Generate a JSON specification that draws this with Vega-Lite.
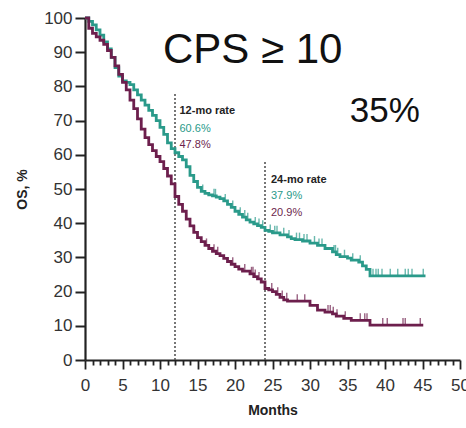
{
  "$schema": "https://vega.github.io/schema/vega-lite/v6.json",
  "width": 375,
  "height": 342,
  "autosize": "none",
  "padding": {"left": 85, "top": 18, "right": 6, "bottom": 68},
  "background": "white",
  "config": {"view": {"stroke": null}, "font": "Liberation Sans"},
  "datasets": {
    "km": [
      {"arm":"Treatment","month":0,"os":100,"c":0},{"arm":"Treatment","month":0.5,"os":99,"c":0},{"arm":"Treatment","month":1,"os":98,"c":0},{"arm":"Treatment","month":1.5,"os":96.5,"c":0},{"arm":"Treatment","month":2,"os":95,"c":0},{"arm":"Treatment","month":2.5,"os":93,"c":0},{"arm":"Treatment","month":3,"os":91,"c":0},{"arm":"Treatment","month":3.5,"os":88.5,"c":0},{"arm":"Treatment","month":4,"os":85.5,"c":0},{"arm":"Treatment","month":4.5,"os":83,"c":0},{"arm":"Treatment","month":5,"os":81.6,"c":0},{"arm":"Treatment","month":5.5,"os":81.2,"c":0},{"arm":"Treatment","month":6,"os":80.5,"c":0},{"arm":"Treatment","month":6.5,"os":79,"c":0},{"arm":"Treatment","month":7,"os":77.5,"c":0},{"arm":"Treatment","month":7.5,"os":76,"c":0},{"arm":"Treatment","month":8,"os":74.5,"c":0},{"arm":"Treatment","month":8.5,"os":73,"c":0},{"arm":"Treatment","month":9,"os":71.5,"c":0},{"arm":"Treatment","month":9.5,"os":70,"c":0},{"arm":"Treatment","month":10,"os":68,"c":0},{"arm":"Treatment","month":10.5,"os":66,"c":0},{"arm":"Treatment","month":11,"os":63.5,"c":0},{"arm":"Treatment","month":11.5,"os":61.8,"c":0},{"arm":"Treatment","month":12,"os":60.6,"c":0},{"arm":"Treatment","month":12.5,"os":59.5,"c":0},{"arm":"Treatment","month":13,"os":58.5,"c":0},{"arm":"Treatment","month":13.5,"os":56.5,"c":0},{"arm":"Treatment","month":14,"os":54,"c":0},{"arm":"Treatment","month":14.5,"os":52.2,"c":0},{"arm":"Treatment","month":15,"os":50.5,"c":0},{"arm":"Treatment","month":15.5,"os":49.3,"c":0},{"arm":"Treatment","month":15.7,"os":49.3,"c":1},{"arm":"Treatment","month":16,"os":48.7,"c":0},{"arm":"Treatment","month":16.5,"os":48.3,"c":0},{"arm":"Treatment","month":17,"os":48,"c":0},{"arm":"Treatment","month":17.2,"os":48,"c":1},{"arm":"Treatment","month":17.4,"os":48,"c":1},{"arm":"Treatment","month":17.5,"os":47.6,"c":0},{"arm":"Treatment","month":18,"os":47.2,"c":0},{"arm":"Treatment","month":18.5,"os":46.5,"c":0},{"arm":"Treatment","month":18.7,"os":46.5,"c":1},{"arm":"Treatment","month":19,"os":45.5,"c":0},{"arm":"Treatment","month":19.5,"os":44.6,"c":0},{"arm":"Treatment","month":19.7,"os":44.6,"c":1},{"arm":"Treatment","month":20,"os":43.5,"c":0},{"arm":"Treatment","month":20.5,"os":42.6,"c":0},{"arm":"Treatment","month":20.7,"os":42.6,"c":1},{"arm":"Treatment","month":21,"os":41.8,"c":0},{"arm":"Treatment","month":21.3,"os":41.8,"c":1},{"arm":"Treatment","month":21.5,"os":41,"c":0},{"arm":"Treatment","month":21.7,"os":41,"c":1},{"arm":"Treatment","month":22,"os":40.3,"c":0},{"arm":"Treatment","month":22.5,"os":39.8,"c":0},{"arm":"Treatment","month":22.7,"os":39.8,"c":1},{"arm":"Treatment","month":23,"os":39.3,"c":0},{"arm":"Treatment","month":23.2,"os":39.3,"c":1},{"arm":"Treatment","month":23.5,"os":38.8,"c":0},{"arm":"Treatment","month":23.7,"os":38.8,"c":1},{"arm":"Treatment","month":24,"os":37.9,"c":0},{"arm":"Treatment","month":24.5,"os":37.6,"c":0},{"arm":"Treatment","month":24.7,"os":37.6,"c":1},{"arm":"Treatment","month":25,"os":37.2,"c":0},{"arm":"Treatment","month":25.3,"os":37.2,"c":1},{"arm":"Treatment","month":25.6,"os":37.2,"c":1},{"arm":"Treatment","month":26,"os":36.6,"c":0},{"arm":"Treatment","month":26.5,"os":36.6,"c":1},{"arm":"Treatment","month":27,"os":36,"c":0},{"arm":"Treatment","month":27.2,"os":36,"c":1},{"arm":"Treatment","month":27.5,"os":35.5,"c":0},{"arm":"Treatment","month":28,"os":35.2,"c":0},{"arm":"Treatment","month":28.2,"os":35.2,"c":1},{"arm":"Treatment","month":28.6,"os":35.2,"c":1},{"arm":"Treatment","month":29,"os":34.8,"c":0},{"arm":"Treatment","month":29.2,"os":34.8,"c":1},{"arm":"Treatment","month":29.6,"os":34.8,"c":1},{"arm":"Treatment","month":30,"os":34.2,"c":0},{"arm":"Treatment","month":30.6,"os":34.2,"c":1},{"arm":"Treatment","month":31,"os":33.5,"c":0},{"arm":"Treatment","month":31.2,"os":33.5,"c":1},{"arm":"Treatment","month":31.6,"os":33.5,"c":1},{"arm":"Treatment","month":32,"os":32.6,"c":0},{"arm":"Treatment","month":33,"os":31.6,"c":0},{"arm":"Treatment","month":33.2,"os":31.6,"c":1},{"arm":"Treatment","month":33.4,"os":31.6,"c":1},{"arm":"Treatment","month":33.5,"os":30.8,"c":0},{"arm":"Treatment","month":33.7,"os":30.8,"c":1},{"arm":"Treatment","month":34,"os":30.2,"c":0},{"arm":"Treatment","month":34.6,"os":30.2,"c":1},{"arm":"Treatment","month":35,"os":29.8,"c":0},{"arm":"Treatment","month":35.5,"os":29.2,"c":0},{"arm":"Treatment","month":35.7,"os":29.2,"c":1},{"arm":"Treatment","month":36.5,"os":28.6,"c":0},{"arm":"Treatment","month":36.7,"os":28.6,"c":1},{"arm":"Treatment","month":37,"os":27.5,"c":0},{"arm":"Treatment","month":37.5,"os":26.5,"c":0},{"arm":"Treatment","month":38,"os":24.6,"c":0},{"arm":"Treatment","month":38.4,"os":24.6,"c":1},{"arm":"Treatment","month":38.8,"os":24.6,"c":1},{"arm":"Treatment","month":39.1,"os":24.6,"c":1},{"arm":"Treatment","month":39.6,"os":24.6,"c":1},{"arm":"Treatment","month":40.7,"os":24.6,"c":1},{"arm":"Treatment","month":41.7,"os":24.6,"c":1},{"arm":"Treatment","month":42.7,"os":24.6,"c":1},{"arm":"Treatment","month":43.1,"os":24.6,"c":1},{"arm":"Treatment","month":43.6,"os":24.6,"c":1},{"arm":"Treatment","month":45.1,"os":24.6,"c":1},{"arm":"Treatment","month":45.4,"os":24.6,"c":0},
      {"arm":"Control","month":0,"os":100,"c":0},{"arm":"Control","month":0.5,"os":97,"c":0},{"arm":"Control","month":1,"os":95.5,"c":0},{"arm":"Control","month":1.5,"os":94.5,"c":0},{"arm":"Control","month":2,"os":93.5,"c":0},{"arm":"Control","month":2.5,"os":92.3,"c":0},{"arm":"Control","month":3,"os":90.5,"c":0},{"arm":"Control","month":3.5,"os":88.5,"c":0},{"arm":"Control","month":4,"os":86,"c":0},{"arm":"Control","month":4.5,"os":83.5,"c":0},{"arm":"Control","month":5,"os":81.2,"c":0},{"arm":"Control","month":5.5,"os":79,"c":0},{"arm":"Control","month":6,"os":76,"c":0},{"arm":"Control","month":6.5,"os":73.5,"c":0},{"arm":"Control","month":7,"os":70.5,"c":0},{"arm":"Control","month":7.5,"os":67.5,"c":0},{"arm":"Control","month":8,"os":65,"c":0},{"arm":"Control","month":8.5,"os":63,"c":0},{"arm":"Control","month":9,"os":61.2,"c":0},{"arm":"Control","month":9.5,"os":59.5,"c":0},{"arm":"Control","month":10,"os":58,"c":0},{"arm":"Control","month":10.5,"os":56,"c":0},{"arm":"Control","month":11,"os":53.8,"c":0},{"arm":"Control","month":11.5,"os":51.5,"c":0},{"arm":"Control","month":12,"os":47.8,"c":0},{"arm":"Control","month":12.5,"os":45.5,"c":0},{"arm":"Control","month":13,"os":43.5,"c":0},{"arm":"Control","month":13.5,"os":41.2,"c":0},{"arm":"Control","month":14,"os":39.2,"c":0},{"arm":"Control","month":14.5,"os":37.3,"c":0},{"arm":"Control","month":14.6,"os":37.3,"c":1},{"arm":"Control","month":15,"os":35.8,"c":0},{"arm":"Control","month":15.5,"os":34.6,"c":0},{"arm":"Control","month":16,"os":33.5,"c":0},{"arm":"Control","month":16.2,"os":33.5,"c":1},{"arm":"Control","month":16.5,"os":32.6,"c":0},{"arm":"Control","month":17,"os":31.8,"c":0},{"arm":"Control","month":17.2,"os":31.8,"c":1},{"arm":"Control","month":17.5,"os":31.1,"c":0},{"arm":"Control","month":17.7,"os":31.1,"c":1},{"arm":"Control","month":18,"os":30.5,"c":0},{"arm":"Control","month":18.5,"os":29.7,"c":0},{"arm":"Control","month":19,"os":28.8,"c":0},{"arm":"Control","month":19.5,"os":28,"c":0},{"arm":"Control","month":19.7,"os":28,"c":1},{"arm":"Control","month":20,"os":27.3,"c":0},{"arm":"Control","month":20.5,"os":26.6,"c":0},{"arm":"Control","month":21,"os":26,"c":0},{"arm":"Control","month":21.3,"os":26,"c":1},{"arm":"Control","month":22,"os":25.2,"c":0},{"arm":"Control","month":22.2,"os":25.2,"c":1},{"arm":"Control","month":22.4,"os":25.2,"c":1},{"arm":"Control","month":22.5,"os":24.4,"c":0},{"arm":"Control","month":22.7,"os":24.4,"c":1},{"arm":"Control","month":23,"os":23.7,"c":0},{"arm":"Control","month":23.2,"os":23.7,"c":1},{"arm":"Control","month":23.5,"os":22.8,"c":0},{"arm":"Control","month":24,"os":20.9,"c":0},{"arm":"Control","month":24.5,"os":20.5,"c":0},{"arm":"Control","month":24.9,"os":20.5,"c":1},{"arm":"Control","month":25,"os":20,"c":0},{"arm":"Control","month":25.5,"os":19.2,"c":0},{"arm":"Control","month":25.7,"os":19.2,"c":1},{"arm":"Control","month":26,"os":18.3,"c":0},{"arm":"Control","month":26.3,"os":18.3,"c":1},{"arm":"Control","month":26.5,"os":17.6,"c":0},{"arm":"Control","month":26.9,"os":17.6,"c":1},{"arm":"Control","month":27,"os":17.2,"c":0},{"arm":"Control","month":28.3,"os":17.2,"c":1},{"arm":"Control","month":29.3,"os":17.2,"c":1},{"arm":"Control","month":30,"os":16,"c":0},{"arm":"Control","month":31,"os":14.6,"c":0},{"arm":"Control","month":32,"os":14,"c":0},{"arm":"Control","month":32.4,"os":14,"c":1},{"arm":"Control","month":32.7,"os":14,"c":1},{"arm":"Control","month":33,"os":13.5,"c":0},{"arm":"Control","month":33.1,"os":13.5,"c":1},{"arm":"Control","month":33.5,"os":12.8,"c":0},{"arm":"Control","month":33.6,"os":12.8,"c":1},{"arm":"Control","month":34.5,"os":12.2,"c":0},{"arm":"Control","month":34.7,"os":12.2,"c":1},{"arm":"Control","month":35.5,"os":11.6,"c":0},{"arm":"Control","month":36.7,"os":11.6,"c":1},{"arm":"Control","month":37.3,"os":11.6,"c":1},{"arm":"Control","month":37.6,"os":11.6,"c":1},{"arm":"Control","month":38,"os":10.2,"c":0},{"arm":"Control","month":39.7,"os":10.2,"c":1},{"arm":"Control","month":40.3,"os":10.2,"c":1},{"arm":"Control","month":42.4,"os":10.2,"c":1},{"arm":"Control","month":42.7,"os":10.2,"c":1},{"arm":"Control","month":44.7,"os":10.2,"c":1},{"arm":"Control","month":45.1,"os":10.2,"c":0}
    ],
    "marks": [
      {"month": 12, "os": 0, "top": 78},
      {"month": 24, "os": 0, "top": 58}
    ],
    "heads": [
      {"month": 12.6, "os": 71.9, "label": "12-mo rate"},
      {"month": 24.8, "os": 51.8, "label": "24-mo rate"}
    ],
    "rates": [
      {"month": 12.6, "os": 66.8, "label": "60.6%", "arm": "Treatment"},
      {"month": 12.6, "os": 61.9, "label": "47.8%", "arm": "Control"},
      {"month": 24.8, "os": 47.1, "label": "37.9%", "arm": "Treatment"},
      {"month": 24.8, "os": 42.2, "label": "20.9%", "arm": "Control"}
    ],
    "big": [
      {"month": 10.4, "os": 86.8, "label": "CPS ≥ 10", "kind": "title"},
      {"month": 35.3, "os": 69.6, "label": "35%", "kind": "pct"}
    ]
  },
  "encoding": {
    "x": {
      "field": "month", "type": "quantitative",
      "scale": {"domain": [0, 50], "nice": false, "zero": false},
      "axis": {
        "title": "Months",
        "values": [0,1,2,3,4,5,6,7,8,9,10,11,12,13,14,15,16,17,18,19,20,21,22,23,24,25,26,27,28,29,30,31,32,33,34,35,36,37,38,39,40,41,42,43,44,45,46,47,48,49,50],
        "labelExpr": "datum.value % 5 === 0 ? datum.label : ''",
        "labelOverlap": false,
        "labelFlush": false,
        "tickSize": {"condition": {"test": "datum.value % 5 === 0", "value": 9}, "value": 5},
        "tickWidth": 1.8,
        "tickColor": "#222",
        "domainColor": "#222",
        "domainWidth": 2.2,
        "grid": false,
        "labelFontSize": 17,
        "labelColor": "#333",
        "labelPadding": 8,
        "titleFontSize": 14,
        "titleFontWeight": "bold",
        "titleColor": "#222",
        "titlePadding": 10
      }
    },
    "y": {
      "field": "os", "type": "quantitative",
      "scale": {"domain": [0, 100], "nice": false},
      "axis": {
        "title": "OS, %",
        "values": [0,10,20,30,40,50,60,70,80,90,100],
        "tickSize": 10,
        "tickWidth": 2,
        "tickColor": "#222",
        "domainColor": "#222",
        "domainWidth": 2.2,
        "grid": false,
        "labelFontSize": 17,
        "labelColor": "#333",
        "labelPadding": 3,
        "titleFontSize": 14,
        "titleFontWeight": "bold",
        "titleColor": "#222",
        "titlePadding": 14
      }
    }
  },
  "layer": [
    {
      "data": {"name": "marks"},
      "mark": {"type": "rule", "strokeDash": [2, 2], "strokeWidth": 1.6, "color": "#555"},
      "encoding": {"y2": {"field": "top"}}
    },
    {
      "data": {"name": "km"},
      "mark": {"type": "line", "interpolate": "step-after", "strokeWidth": 2.8},
      "encoding": {
        "color": {"field": "arm", "type": "nominal", "scale": {"domain": ["Treatment", "Control"], "range": ["#2a9a8a", "#6d1f4d"]}, "legend": null}
      }
    },
    {
      "data": {"name": "km"},
      "transform": [{"filter": "datum.c === 1"}],
      "mark": {"type": "tick", "orient": "vertical", "size": 7, "thickness": 1.4, "yOffset": -3.5},
      "encoding": {
        "color": {"field": "arm", "type": "nominal", "scale": {"domain": ["Treatment", "Control"], "range": ["#2a9a8a", "#6d1f4d"]}, "legend": null}
      }
    },
    {
      "data": {"name": "heads"},
      "mark": {"type": "text", "align": "left", "baseline": "alphabetic", "fontSize": 11, "fontWeight": "bold", "color": "#222"},
      "encoding": {"text": {"field": "label"}}
    },
    {
      "data": {"name": "rates"},
      "mark": {"type": "text", "align": "left", "baseline": "alphabetic", "fontSize": 11},
      "encoding": {
        "text": {"field": "label"},
        "color": {"field": "arm", "type": "nominal", "scale": {"domain": ["Treatment", "Control"], "range": ["#62b3a4", "#ad6884"]}, "legend": null}
      }
    },
    {
      "data": {"name": "big"},
      "transform": [{"filter": "datum.kind === 'title'"}],
      "mark": {"type": "text", "align": "left", "baseline": "alphabetic", "fontSize": 42, "color": "#111"},
      "encoding": {"text": {"field": "label"}}
    },
    {
      "data": {"name": "big"},
      "transform": [{"filter": "datum.kind === 'pct'"}],
      "mark": {"type": "text", "align": "left", "baseline": "alphabetic", "fontSize": 35, "color": "#111"},
      "encoding": {"text": {"field": "label"}}
    }
  ]
}
